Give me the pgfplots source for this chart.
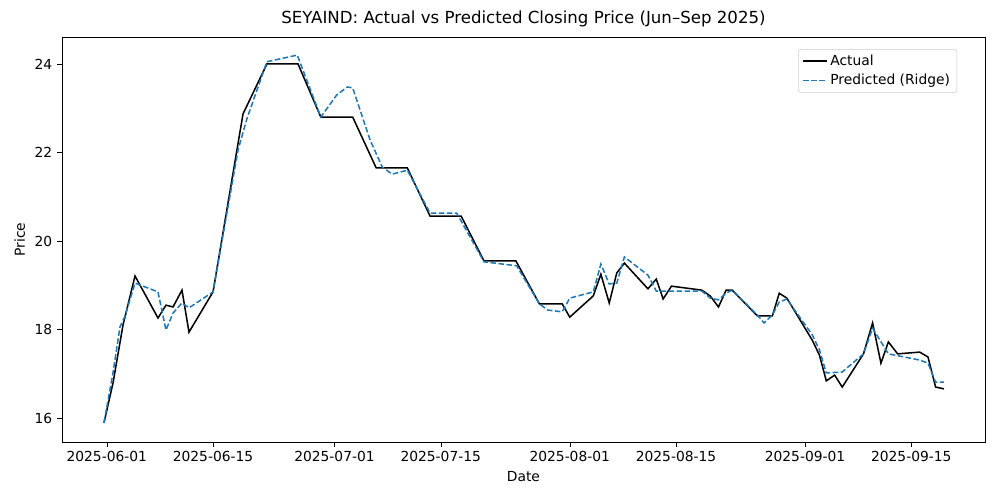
\documentclass[border=0pt]{standalone}
\usepackage{pgfplots}
\pgfplotsset{compat=1.18}
\usepackage{fontspec}
\setmainfont{DejaVu Sans}
\definecolor{mplblue}{HTML}{1F77B4}
\begin{document}
\begin{tikzpicture}
\path[use as bounding box] (-44.8pt,-42.2pt) rectangle (677.9pt,319.4pt);
\begin{axis}[
  scale only axis, width=667pt, height=292.7pt,
  xmin=-5.9, xmax=115.7, ymin=15.46, ymax=24.61,
  xtick={0,14,30,44,61,75,92,106},
  xticklabels={2025-06-01,2025-06-15,2025-07-01,2025-07-15,2025-08-01,2025-08-15,2025-09-01,2025-09-15},
  ytick={16,18,20,22,24},
  /pgf/number format/assume math mode=true,
  tick style={black}, tick align=outside, major tick length=3.5pt,
  xtick pos=bottom, ytick pos=left,
  font=\fontsize{10pt}{12pt}\selectfont,
  xlabel={Date}, ylabel={Price},
  title={SEYAIND: Actual vs Predicted Closing Price (Jun–Sep 2025)},
  title style={font=\fontsize{12pt}{14pt}\selectfont, yshift=-2pt},
  legend pos=north east,
  legend style={draw=black!20, rounded corners=2pt, font=\fontsize{10pt}{12pt}\selectfont, row sep=1pt},
  legend cell align=left,
]
\addplot[black, line width=1.1pt] coordinates {
(-0.37,15.89)(0.82,16.79)(2.14,18.10)(3.72,19.21)(6.75,18.26)(7.80,18.55)(8.73,18.51)(9.91,18.89)(10.83,17.94)(14.0,18.85)(17.95,22.87)(21.1,24.0)(25.2,24.0)(28.2,22.80)(32.4,22.80)(35.5,21.65)(39.6,21.65)(42.6,20.56)(46.7,20.56)(49.7,19.55)(53.9,19.55)(57.0,18.58)(60.0,18.58)(61.0,18.28)(64.1,18.76)(65.1,19.25)(66.2,18.60)(67.2,19.28)(68.2,19.50)(71.3,18.92)(72.4,19.14)(73.3,18.69)(74.4,18.98)(78.4,18.89)(79.5,18.76)(80.6,18.51)(81.6,18.89)(82.4,18.89)(85.7,18.31)(87.7,18.31)(88.6,18.82)(89.6,18.71)(92.95,17.76)(93.9,17.42)(94.8,16.84)(95.9,16.97)(96.9,16.70)(99.7,17.45)(100.9,18.15)(102.0,17.24)(102.98,17.72)(104.2,17.45)(107.1,17.49)(108.2,17.38)(109.2,16.70)(110.3,16.66)
};
\addlegendentry{Actual}
\addplot[mplblue, line width=1.1pt, dash pattern=on 4pt off 1.8pt] coordinates {
(-0.37,15.89)(0.82,17.02)(1.74,18.06)(2.4,18.30)(3.72,19.05)(6.75,18.85)(7.80,17.99)(8.73,18.37)(9.91,18.60)(10.83,18.49)(14.0,18.85)(17.3,22.06)(18.5,22.78)(21.1,24.05)(25.1,24.20)(28.2,22.80)(30.3,23.30)(31.7,23.48)(32.4,23.46)(34.7,22.28)(36.3,21.67)(37.6,21.51)(39.6,21.60)(42.6,20.63)(46.1,20.63)(49.7,19.53)(54.0,19.44)(57.0,18.58)(58.1,18.44)(60.0,18.40)(61.0,18.71)(64.1,18.85)(65.1,19.48)(66.2,19.03)(67.2,19.05)(68.2,19.64)(71.3,19.23)(72.4,18.87)(74.4,18.87)(78.4,18.87)(79.5,18.71)(80.6,18.67)(81.6,18.82)(82.4,18.89)(85.7,18.33)(86.6,18.15)(87.7,18.33)(88.6,18.62)(89.6,18.69)(92.95,17.88)(93.9,17.54)(94.8,17.02)(96.9,17.04)(99.7,17.45)(100.9,18.03)(102.98,17.45)(107.1,17.31)(108.2,17.24)(109.2,16.81)(110.3,16.81)
};
\addlegendentry{Predicted (Ridge)}
\end{axis}
\end{tikzpicture}
\end{document}
